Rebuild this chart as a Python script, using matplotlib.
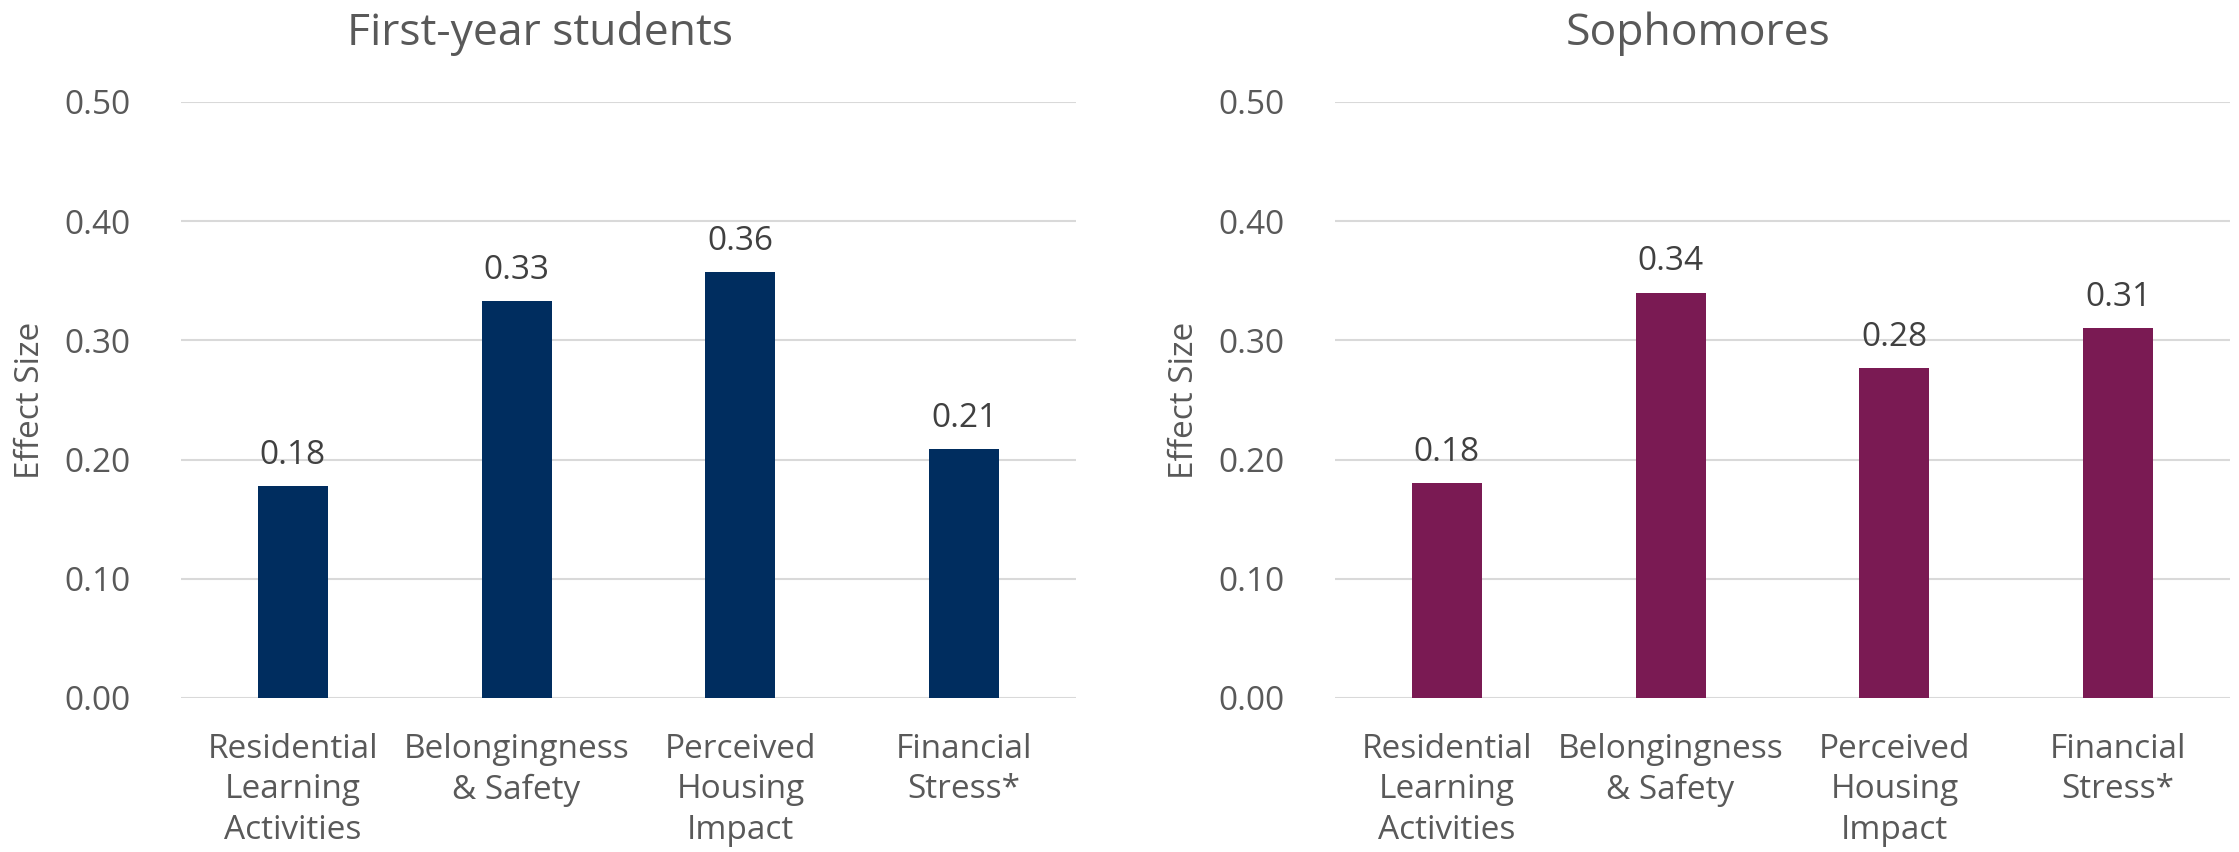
import matplotlib
matplotlib.use("Agg")
import matplotlib.pyplot as plt

plt.rcParams['font.family'] = ['Open Sans', 'DejaVu Sans']

categories = ["Residential\nLearning\nActivities", "Belongingness\n& Safety",
              "Perceived\nHousing\nImpact", "Financial\nStress*"]
first_year = [0.178, 0.333, 0.357, 0.209]
sophomores = [0.180, 0.340, 0.277, 0.310]
panel_titles = ["First-year students", "Sophomores"]
yticks = [0.0, 0.1, 0.2, 0.3, 0.4, 0.5]
ylabel = "Effect Size"

colors = ["#002D5F", "#7A1A53"]
text_color = "#595959"
grid_color = "#D9D9D9"

fig = plt.figure(figsize=(22.39, 8.52), dpi=100)
W, H = 2239, 852
ax_left_px = [181, 1335]
ax_w_px = 895
y0_px, y1_px = 698, 102

title_x_px = [540, 1698]

for i, (vals, title) in enumerate(zip([first_year, sophomores], panel_titles)):
    ax = fig.add_axes([ax_left_px[i] / W, 1 - y0_px / H, ax_w_px / W, (y0_px - y1_px) / H])
    x = list(range(len(categories)))
    ax.bar(x, vals, width=0.3125, color=colors[i], zorder=3)
    ax.set_xlim(-0.5, len(categories) - 0.5)
    ax.set_ylim(0, 0.5)
    ax.set_yticks(yticks)
    ax.set_yticklabels([f"{t:.2f}" for t in yticks])
    ax.set_xticks(x)
    ax.set_xticklabels(categories, linespacing=1.3)
    ax.tick_params(axis='y', length=0, pad=36, labelsize=24, labelcolor=text_color)
    ax.tick_params(axis='x', length=0, pad=25, labelsize=24, labelcolor=text_color)
    ax.yaxis.grid(True, color=grid_color, linewidth=1.5, zorder=0)
    ax.set_axisbelow(True)
    for s in ax.spines.values():
        s.set_visible(False)
    ax.set_ylabel(ylabel, fontsize=24, color=text_color)
    ax.yaxis.set_label_coords(-0.150, 0.5)
    for xi, v in zip(x, vals):
        ax.annotate(f"{v:.2f}", (xi, v), xytext=(0, 16), textcoords='offset points',
                    ha='center', va='baseline', fontsize=24, color="#404040")
    fig.text(title_x_px[i] / W, 1 - 45 / H, title, ha='center', va='baseline',
             fontsize=32, color=text_color)

fig.savefig("out.png", dpi=100, facecolor="white")
